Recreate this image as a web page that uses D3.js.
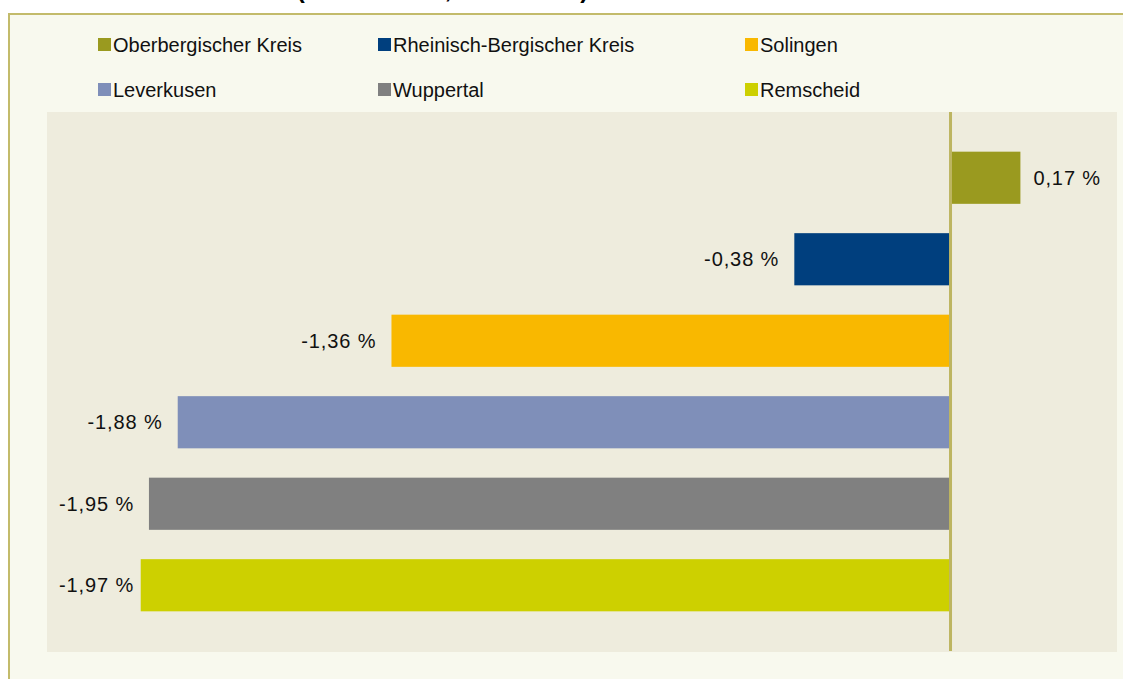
<!DOCTYPE html>
<html>
<head>
<meta charset="utf-8">
<script src="https://cdn.jsdelivr.net/npm/d3@7"></script>
<style>
  body { margin: 0; background: #ffffff; }
  svg { display: block; font-family: Arial, "Liberation Sans", sans-serif; }
</style>
</head>
<body>
<main></main>
<script>
const WIDTH = 1123
const HEIGHT = 679

// data
const categories = ['Oberbergischer Kreis', 'Rheinisch-Bergischer Kreis', 'Solingen', 'Leverkusen', 'Wuppertal', 'Remscheid']
const values = [0.17, -0.38, -1.36, -1.88, -1.95, -1.97]
const barColors = ['#9a9a1f', '#003f7e', '#f9b800', '#7f8fb9', '#808080', '#cdd000']
const xDomain = [-2.198, 0.405]
const titleText = 'Einwohnerzahl 2012 (Stand 31.12., Werte in %)'

const de = d3.formatLocale({decimal: ',', thousands: '.', grouping: [3], currency: ['', ' €']})
const fmtDe = de.format('.2f')

const plot = {left: 47, right: 1117, top: 112, bottom: 652}

const svgCanvas = d3.select('main').append('svg')
  .attr('width', WIDTH)
  .attr('height', HEIGHT)

svgCanvas.append('rect')
  .attr('width', WIDTH).attr('height', HEIGHT)
  .style('fill', '#ffffff')

// outer chart frame (cut off at right and bottom)
svgCanvas.append('rect')
  .attr('x', 9).attr('y', 14)
  .attr('width', WIDTH + 20).attr('height', HEIGHT)
  .style('fill', '#f8f9ee')
  .style('stroke', '#c3bb6b')
  .style('stroke-width', 2)

// title, mostly above the visible area (like the reference)
const title = svgCanvas.append('text')
  .attr('y', -2.5)
  .style('font-size', '24px')
  .style('font-weight', 'bold')
  .style('fill', '#000')
  .text(titleText)
const probe = svgCanvas.append('text')
  .style('font-size', '24px').style('font-weight', 'bold')
  .text(titleText.slice(0, titleText.indexOf('(')))
const prefixW = probe.node().getComputedTextLength()
probe.remove()
title.attr('x', 290 - prefixW)

// plot area
svgCanvas.append('rect')
  .attr('x', plot.left).attr('y', plot.top)
  .attr('width', plot.right - plot.left)
  .attr('height', plot.bottom - plot.top)
  .style('fill', '#eeecdd')

const x = d3.scaleLinear().domain(xDomain).range([plot.left, plot.right])
const y = d3.scaleBand().domain(categories).range([137, 626]).paddingInner(0.36).paddingOuter(0.18)

svgCanvas.selectAll('rect.bar')
  .data(categories)
  .enter()
  .append('rect')
  .attr('class', 'bar')
  .attr('x', function (d, i) { return x(Math.min(0, values[i])) })
  .attr('y', function (d) { return y(d) })
  .attr('width', function (d, i) { return Math.abs(x(values[i]) - x(0)) })
  .attr('height', y.bandwidth())
  .style('fill', function (d, i) { return barColors[i] })

// zero axis line
svgCanvas.append('line')
  .attr('x1', x(0)).attr('x2', x(0))
  .attr('y1', plot.top).attr('y2', plot.bottom - 1)
  .style('stroke', '#bdb561')
  .style('stroke-width', 3)

// value labels
svgCanvas.selectAll('text.val')
  .data(categories)
  .enter()
  .append('text')
  .attr('class', 'val')
  .attr('y', function (d) { return y(d) + y.bandwidth() / 2 })
  .attr('dy', '0.35em')
  .style('font-size', '20px')
  .style('letter-spacing', '0.9px')
  .style('fill', '#111')
  .text(function (d, i) { return fmtDe(values[i]).replace('−', '-') + ' %' })
  .each(function (d, i) {
    const v = values[i]
    const w = this.getComputedTextLength()
    if (v >= 0) {
      d3.select(this).attr('x', x(v) + 13).attr('text-anchor', 'start')
    } else {
      // keep label inside the plot area
      const right = Math.max(x(v) - 15, plot.left + 12 + w)
      d3.select(this).attr('x', right).attr('text-anchor', 'end')
    }
  })

// legend, 3 columns x 2 rows
const legendX = [98, 378, 745]
const legendY = [38, 83]
const legend = svgCanvas.selectAll('g.legend')
  .data(categories)
  .enter()
  .append('g')
  .attr('class', 'legend')
  .attr('transform', function (d, i) {
    return `translate(${legendX[i % 3]},${legendY[Math.floor(i / 3)]})`
  })

legend.append('rect')
  .attr('width', 13).attr('height', 13)
  .style('fill', function (d, i) { return barColors[i] })

legend.append('text')
  .attr('x', 15).attr('y', 14)
  .style('font-size', '20px')
  .style('fill', '#111')
  .text(function (d) { return d })
</script>
</body>
</html>
